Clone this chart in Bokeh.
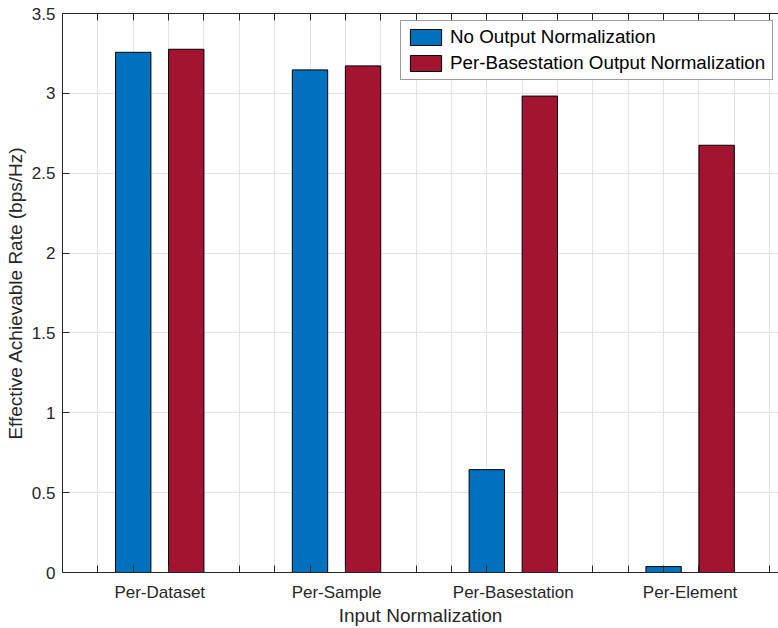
from bokeh.plotting import figure
from bokeh.models import (ColumnDataSource, FixedTicker, LinearAxis, Legend,
                          LegendItem, Range1d)
from bokeh.transform import dodge
from bokeh.embed import file_html
from bokeh.resources import INLINE

# ---- data ----
categories = ["Per-Dataset", "Per-Sample", "Per-Basestation", "Per-Element"]
series_names = ["No Output Normalization", "Per-Basestation Output Normalization"]
no_output_norm = [3.257, 3.147, 0.644, 0.037]
per_bs_output_norm = [3.276, 3.172, 2.983, 2.675]
y_ticks = [0, 0.5, 1, 1.5, 2, 2.5, 3, 3.5]
y_tick_labels = ["0", "0.5", "1", "1.5", "2", "2.5", "3", "3.5"]
x_label = "Input Normalization"
y_label = "Effective Achievable Rate (bps/Hz)"

# ---- styling ----
BLUE = "#0072BD"
RED = "#A2142F"
AX = "#262626"
GRID = "#e3e3e3"
FONT = "Liberation Sans"

xpos = [i + 1 for i in range(len(categories))]
src = ColumnDataSource(dict(x=xpos, cat=categories, a=no_output_norm, b=per_bs_output_norm))

p = figure(width=778, height=628, x_range=Range1d(0.45, 4.5), y_range=Range1d(0, 3.5),
           output_backend="svg", toolbar_location=None,
           min_border_left=62, min_border_right=0, min_border_top=13, min_border_bottom=54)
p.outline_line_color = None
p.background_fill_color = "white"

grid_pos = [round(0.65 + 0.2 * k, 4) for k in range(20)]

p.xgrid.ticker = FixedTicker(ticks=grid_pos)
p.ygrid.ticker = FixedTicker(ticks=y_ticks)
p.xgrid.grid_line_color = GRID
p.ygrid.grid_line_color = GRID

r1 = p.vbar(x=dodge("x", -0.15), top="a", width=0.2, source=src,
            fill_color=BLUE, line_color="black", line_width=1)
r2 = p.vbar(x=dodge("x", 0.15), top="b", width=0.2, source=src,
            fill_color=RED, line_color="black", line_width=1)

# bottom axis
xa = p.xaxis[0]
xa.ticker = FixedTicker(ticks=xpos, minor_ticks=grid_pos)
xa.major_label_overrides = {x: c for x, c in zip(xpos, categories)}
xa.major_tick_line_color = None
xa.major_tick_in = 0
xa.major_tick_out = 0
xa.minor_tick_in = 7
xa.minor_tick_out = 0
xa.minor_tick_line_color = AX
xa.axis_line_color = AX
xa.major_label_text_font = FONT
xa.major_label_text_font_size = "17px"
xa.major_label_text_color = AX
xa.major_label_standoff = 10
xa.axis_label = x_label
xa.axis_label_text_font = FONT
xa.axis_label_text_font_size = "19px"
xa.axis_label_text_font_style = "normal"
xa.axis_label_text_color = AX
xa.axis_label_standoff = 0

# left axis
ya = p.yaxis[0]
ya.ticker = FixedTicker(ticks=y_ticks)
ya.major_label_overrides = {t: s for t, s in zip(y_ticks, y_tick_labels)}
ya.major_tick_in = 7
ya.major_tick_out = 0
ya.major_tick_line_color = AX
ya.minor_tick_line_color = None
ya.axis_line_color = AX
ya.major_label_text_font = FONT
ya.major_label_text_font_size = "17px"
ya.major_label_text_color = AX
ya.major_label_standoff = 7
ya.axis_label = y_label
ya.axis_label_text_font = FONT
ya.axis_label_text_font_size = "19px"
ya.axis_label_text_font_style = "normal"
ya.axis_label_text_color = AX
ya.axis_label_standoff = 3

# top axis (box)
ta = LinearAxis(ticker=FixedTicker(ticks=xpos, minor_ticks=grid_pos),
                major_label_text_font_size="0px", major_label_standoff=0,
                major_tick_line_color=None, major_tick_in=0, major_tick_out=0,
                minor_tick_in=7, minor_tick_out=0, minor_tick_line_color=AX,
                axis_line_color=AX)
ta.major_label_overrides = {x: "" for x in xpos}
p.add_layout(ta, "above")

legend = Legend(items=[LegendItem(label=series_names[0], renderers=[r1]),
                       LegendItem(label=series_names[1], renderers=[r2])],
                location=(338, 492))
legend.label_text_font = FONT
legend.label_text_font_size = "18.8px"
legend.label_text_color = "black"
legend.border_line_color = "#3a3a3a"
legend.border_line_width = 1
legend.background_fill_color = "white"
legend.background_fill_alpha = 1
legend.glyph_width = 39
legend.glyph_height = 20
legend.label_height = 20
legend.label_width = 317
legend.label_standoff = 5
legend.padding = 5
legend.spacing = 4
legend.margin = 0
p.add_layout(legend)

open("out.html", "w").write(file_html(p, INLINE, "plot"))
